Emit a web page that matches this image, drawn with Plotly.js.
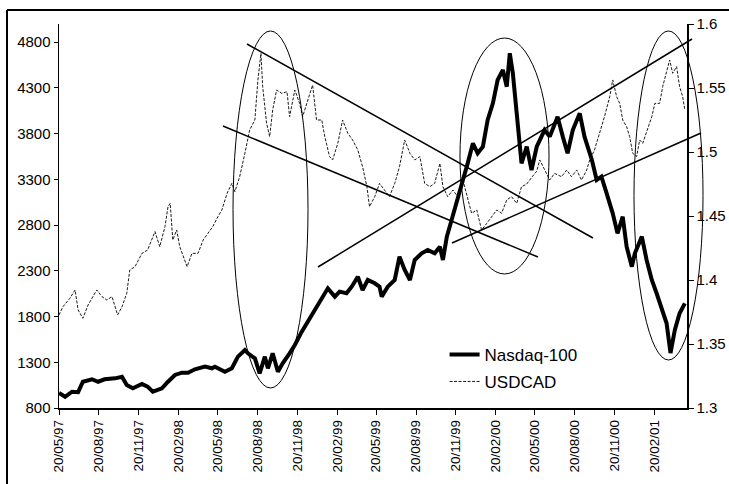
<!DOCTYPE html>
<html><head><meta charset="utf-8">
<script src="https://cdn.plot.ly/plotly-3.0.1.min.js"></script>
<style>html,body{margin:0;padding:0;background:#fff;}#chart{width:729px;height:484px;}</style>
</head><body><div id="chart"></div>
<script>
const ndxDates = ['1997-05-20','1997-06-03','1997-06-19','1997-07-03','1997-07-14','1997-08-04','1997-08-18','1997-09-02','1997-09-26','1997-10-12','1997-10-23','1997-11-06','1997-11-27','1997-12-10','1997-12-22','1998-01-12','1998-01-26','1998-02-11','1998-02-27','1998-03-13','1998-03-29','1998-04-21','1998-05-07','1998-05-14','1998-06-06','1998-06-22','1998-07-06','1998-07-22','1998-07-29','1998-08-14','1998-08-25','1998-09-06','1998-09-13','1998-09-24','1998-10-06','1998-10-17','1998-11-02','1998-11-14','1998-11-30','1998-12-14','1998-12-30','1999-01-15','1999-01-29','1999-02-14','1999-02-25','1999-03-13','1999-03-25','1999-04-08','1999-04-19','1999-05-01','1999-05-17','1999-05-28','1999-06-02','1999-06-16','1999-07-02','1999-07-13','1999-07-25','1999-08-06','1999-08-17','1999-09-02','1999-09-16','1999-10-02','1999-10-14','1999-10-21','1999-10-30','1999-11-10','1999-11-24','1999-12-06','1999-12-17','1999-12-29','2000-01-09','2000-01-21','2000-02-01','2000-02-13','2000-02-24','2000-03-07','2000-03-16','2000-03-23','2000-03-30','2000-04-10','2000-04-19','2000-05-01','2000-05-12','2000-05-24','2000-06-11','2000-06-23','2000-07-11','2000-07-23','2000-08-03','2000-08-15','2000-08-31','2000-09-11','2000-09-28','2000-10-09','2000-10-20','2000-11-01','2000-11-15','2000-11-26','2000-12-08','2000-12-17','2000-12-29','2001-01-05','2001-01-21','2001-02-01','2001-02-13','2001-02-24','2001-03-08','2001-03-19','2001-03-28','2001-04-07','2001-04-18','2001-04-30'];
const ndxValues = [964,923,978,973,1087,1114,1087,1114,1124,1142,1051,1015,1062,1033,978,1015,1087,1161,1186,1186,1223,1252,1234,1252,1197,1234,1361,1434,1398,1343,1179,1361,1234,1398,1197,1288,1398,1489,1634,1743,1871,1981,2108,2017,2072,2054,2126,2235,2090,2199,2163,2126,2017,2126,2199,2454,2308,2199,2418,2491,2527,2491,2563,2418,2673,2855,3073,3292,3474,3693,3584,3656,3948,4130,4385,4494,4312,4677,4458,3875,3474,3656,3401,3656,3838,3766,3984,3766,3584,3838,4021,3766,3511,3292,3329,3146,2928,2709,2891,2563,2345,2491,2673,2418,2199,2054,1871,1726,1400,1653,1835,1944];

const cadDates = ['1997-05-20','1997-05-29','1997-06-14','1997-06-26','1997-07-03','1997-07-14','1997-07-26','1997-08-15','1997-08-27','1997-09-07','1997-09-19','1997-10-02','1997-10-12','1997-10-23','1997-10-30','1997-11-11','1997-11-27','1997-12-10','1997-12-27','1998-01-07','1998-01-19','1998-01-26','1998-01-31','1998-02-06','1998-02-15','1998-02-22','1998-03-11','1998-03-22','1998-04-05','1998-04-17','1998-04-28','1998-05-09','1998-05-21','1998-05-30','1998-06-11','1998-06-22','1998-06-29','1998-07-10','1998-07-22','1998-08-02','1998-08-14','1998-08-21','1998-08-28','1998-09-01','1998-09-10','1998-09-17','1998-09-24','1998-10-03','1998-10-15','1998-10-27','1998-11-02','1998-11-14','1998-11-25','1998-12-02','1998-12-14','1998-12-25','1999-01-03','1999-01-15','1999-01-22','1999-02-02','1999-02-09','1999-02-21','1999-03-04','1999-03-16','1999-03-27','1999-04-08','1999-04-19','1999-04-29','1999-05-05','1999-05-17','1999-05-28','1999-06-09','1999-06-20','1999-07-02','1999-07-13','1999-07-25','1999-08-06','1999-08-17','1999-08-29','1999-09-09','1999-09-21','1999-10-02','1999-10-14','1999-10-21','1999-11-01','1999-11-13','1999-11-24','1999-12-06','1999-12-17','1999-12-26','2000-01-07','2000-01-18','2000-01-30','2000-02-10','2000-02-22','2000-03-04','2000-03-16','2000-03-27','2000-04-08','2000-04-19','2000-05-01','2000-05-12','2000-05-24','2000-05-31','2000-06-23','2000-07-04','2000-07-20','2000-08-01','2000-08-12','2000-08-24','2000-09-04','2000-09-16','2000-09-23','2000-10-04','2000-10-16','2000-10-27','2000-11-08','2000-11-15','2000-11-24','2000-12-01','2000-12-08','2000-12-17','2000-12-24','2000-12-31','2001-01-09','2001-01-16','2001-01-23','2001-02-13','2001-02-20','2001-03-03','2001-03-10','2001-03-19','2001-03-26','2001-04-02','2001-04-11','2001-04-18','2001-04-25','2001-04-30'];
const cadValues = [1.3727,1.3791,1.3857,1.3922,1.3766,1.3701,1.3805,1.3922,1.3870,1.3844,1.3870,1.3727,1.3791,1.3896,1.4078,1.4104,1.4208,1.4234,1.4378,1.4260,1.4417,1.4573,1.4599,1.4313,1.4391,1.4260,1.4104,1.4208,1.4208,1.4313,1.4365,1.4417,1.4495,1.4547,1.4677,1.4755,1.4690,1.4807,1.4990,1.5172,1.5250,1.5563,1.5771,1.5510,1.5224,1.5120,1.5328,1.5484,1.5458,1.5471,1.5276,1.5484,1.5380,1.5276,1.5406,1.5523,1.5250,1.5250,1.5120,1.4964,1.4938,1.5068,1.5250,1.5146,1.5094,1.5016,1.4885,1.4729,1.4573,1.4651,1.4755,1.4703,1.4651,1.4755,1.4885,1.5094,1.4990,1.4938,1.4964,1.4755,1.4729,1.4755,1.4911,1.4729,1.4651,1.4703,1.4651,1.4781,1.4625,1.4521,1.4547,1.4391,1.4443,1.4495,1.4547,1.4521,1.4625,1.4651,1.4599,1.4729,1.4750,1.4800,1.4850,1.4938,1.4781,1.4833,1.4807,1.4859,1.4807,1.4859,1.4781,1.4859,1.4938,1.5016,1.5146,1.5276,1.5432,1.5563,1.5432,1.5380,1.5250,1.5198,1.5120,1.4990,1.4964,1.5094,1.5068,1.5276,1.5380,1.5380,1.5510,1.5641,1.5719,1.5615,1.5667,1.5510,1.5432,1.5328];

const xTickLabels = ['20/05/97','20/08/97','20/11/97','20/02/98','20/05/98','20/08/98','20/11/98','20/02/99','20/05/99','20/08/99','20/11/99','20/02/00','20/05/00','20/08/00','20/11/00','20/02/01'];
const leftTicks = [800,1300,1800,2300,2800,3300,3800,4300,4800];
const rightTicks = [1.3,1.35,1.4,1.45,1.5,1.55,1.6];
const rightTickText = ['1.3','1.35','1.4','1.45','1.5','1.55','1.6'];
const seriesNames = ['Nasdaq-100','USDCAD'];

const xTickVals = xTickLabels.map(s => { const p = s.split('/'); return (Number(p[2]) > 50 ? '19' : '20') + p[2] + '-' + p[1] + '-' + p[0]; });

const FONT = 'Liberation Sans, Arial, sans-serif';
const traces = [
  {x: cadDates, y: cadValues, name: seriesNames[1], type: 'scatter', mode: 'lines', yaxis: 'y', legend: 'legend2',
   line: {color: '#1a1a1a', width: 1, dash: '3px,1.5px'}},
  {x: ndxDates, y: ndxValues, name: seriesNames[0], type: 'scatter', mode: 'lines', yaxis: 'y2', legend: 'legend',
   line: {color: '#000', width: 4}}
];

// hand-drawn annotation overlays (paper coordinates)
const ellipses = [[0.2771,0.0521,0.3965,0.9818],[0.6385,0.3490,0.7803,0.9635],[0.9156,0.125,1.0255,0.9818]];
const trendLines = [[0.2994,0.9479,0.8503,0.4427],[0.2611,0.7344,0.7627,0.3932],[0.4124,0.3672,1.0080,0.9609],[0.6258,0.4297,1.0223,0.7161]];
const shapes = [];
ellipses.forEach(e => shapes.push({type:'circle', xref:'paper', yref:'paper', x0:e[0], y0:e[1], x1:e[2], y1:e[3], line:{color:'#000', width:1}}));
trendLines.forEach(l => shapes.push({type:'line', xref:'paper', yref:'paper', x0:l[0], y0:l[1], x1:l[2], y1:l[3], line:{color:'#000', width:1.5}}));
// outer frame of the figure
shapes.push({type:'line', xref:'paper', yref:'paper', x0:-0.0828, y0:1.0365, x1:1.07, y1:1.0365, line:{color:'#000', width:2}});
shapes.push({type:'line', xref:'paper', yref:'paper', x0:-0.0828, y0:1.0365, x1:-0.0828, y1:-0.21, line:{color:'#000', width:2}});

const layout = {
  width: 729, height: 484,
  margin: {l: 59, r: 42, t: 24, b: 76, pad: 0},
  paper_bgcolor: '#fff', plot_bgcolor: '#fff',
  font: {family: FONT, color: '#000', size: 14},
  showlegend: true,
  xaxis: {type: 'date', range: ['1997-05-20', '2001-05-05'], tickmode: 'array', tickvals: xTickVals, ticktext: xTickLabels,
          tickangle: -90, ticks: 'outside', ticklen: 5, tickcolor: '#000', showgrid: false, zeroline: false,
          showline: true, linecolor: '#000', linewidth: 1.5, tickfont: {size: 13.5, family: FONT}},
  yaxis: {range: [1.3, 1.6], side: 'right', anchor: 'x', tickmode: 'array', tickvals: rightTicks, ticktext: rightTickText,
          ticks: 'outside', ticklen: 5, tickcolor: '#000', showgrid: false, zeroline: false, showline: true,
          linecolor: '#000', linewidth: 1.5, tickfont: {size: 15, family: FONT}},
  yaxis2: {range: [800, 4997], side: 'left', overlaying: 'y', anchor: 'x', tickmode: 'array', tickvals: leftTicks,
           ticks: 'outside', ticklen: 4, tickcolor: '#000', showgrid: false, zeroline: false, showline: true,
           linecolor: '#000', linewidth: 1.5, tickfont: {size: 15, family: FONT}},
  yaxis3: {range: [1.3, 1.6], side: 'right', overlaying: 'y', anchor: 'x', tickmode: 'array', tickvals: rightTicks,
           ticks: 'inside', ticklen: 5, tickcolor: '#000', showticklabels: false, showgrid: false, zeroline: false, showline: false},
  legend: {x: 0.614, y: 0.138, xanchor: 'left', yanchor: 'middle', bgcolor: 'rgba(0,0,0,0)', borderwidth: 0,
           font: {size: 17, family: FONT}},
  legend2: {x: 0.614, y: 0.068, xanchor: 'left', yanchor: 'middle', bgcolor: 'rgba(0,0,0,0)', borderwidth: 0,
           font: {size: 17, family: FONT}},
  shapes: shapes
};
Plotly.newPlot('chart', traces, layout, {staticPlot: true, displayModeBar: false});
</script></body></html>
